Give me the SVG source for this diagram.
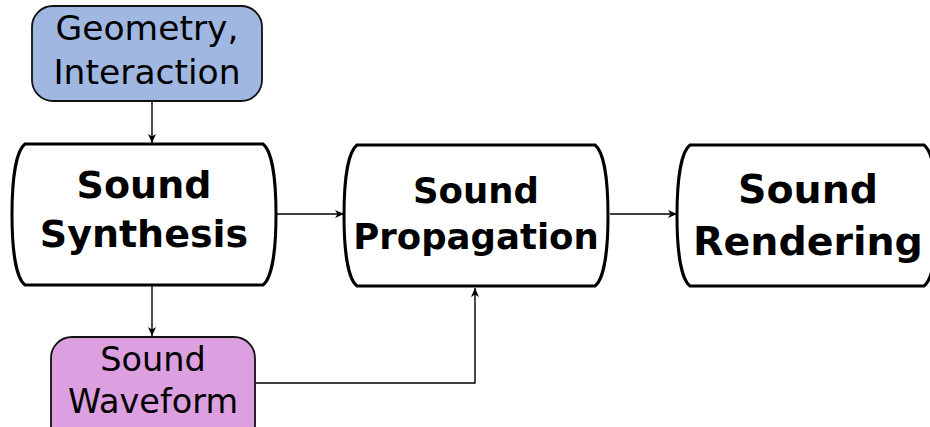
<svg xmlns="http://www.w3.org/2000/svg" width="930" height="427" viewBox="0 0 930 427">
<style>
.t{font-family:"DejaVu Sans",sans-serif;text-anchor:middle;fill:#000}
.b{font-weight:bold}
.big{fill:#fff;stroke:#000;stroke-width:3}
.small{stroke:#111;stroke-width:1.8}
.c{fill:none;stroke:#000;stroke-width:1.4}
</style>
<defs>
<marker id="ah" markerWidth="10" markerHeight="10" refX="9" refY="5" orient="auto" markerUnits="userSpaceOnUse">
<path d="M0,1 L9,5 L0,9 L2.5,5 Z" fill="#000"/>
</marker>
</defs>
<rect width="930" height="427" fill="#fff"/>
<g id="connectors">
<line class="c" x1="152" y1="101" x2="152" y2="143" marker-end="url(#ah)"/>
<line class="c" x1="277" y1="214" x2="344" y2="214" marker-end="url(#ah)"/>
<line class="c" x1="610" y1="214" x2="677" y2="214" marker-end="url(#ah)"/>
<line class="c" x1="152" y1="286" x2="152" y2="336" marker-end="url(#ah)"/>
<polyline class="c" points="256,383 475,383 475,288" marker-end="url(#ah)"/>
</g>
<g id="geometry">
<rect class="small" x="32" y="6" width="230" height="95" rx="21" fill="#a0b8e1"/>
<text class="t" x="147" y="40" font-size="34.5">Geometry,</text>
<text class="t" x="147" y="84" font-size="34.5">Interaction</text>
</g>
<g id="synthesis">
<path class="big" d="M25,144 L263,144 C271,150 276,175 276,214.5 C276,254 271,279 263,285 L25,285 C17,279 12,254 12,214.5 C12,175 17,150 25,144 Z"/>
<text class="t b" x="144" y="198" font-size="38">Sound</text>
<text class="t b" x="144" y="247" font-size="38">Synthesis</text>
</g>
<g id="propagation">
<path class="big" d="M357,145 L595,145 C603,151 608,176 608,215.5 C608,255 603,280 595,286 L357,286 C349,280 344,255 344,215.5 C344,176 349,151 357,145 Z"/>
<text class="t b" x="476" y="203" font-size="35.5">Sound</text>
<text class="t b" x="476" y="249" font-size="35.5">Propagation</text>
</g>
<g id="rendering">
<path class="big" d="M690,145 L924,145 C932,151 937,176 937,215.5 C937,255 932,280 924,286 L690,286 C682,280 677,255 677,215.5 C677,176 682,151 690,145 Z"/>
<text class="t b" x="808" y="203" font-size="39.5">Sound</text>
<text class="t b" x="808" y="255" font-size="39.5">Rendering</text>
</g>
<g id="waveform">
<rect class="small" x="51" y="337" width="204" height="110" rx="21" fill="#dc9fdf"/>
<text class="t" x="153" y="371" font-size="33.5">Sound</text>
<text class="t" x="153" y="413" font-size="33.5">Waveform</text>
</g>
</svg>
